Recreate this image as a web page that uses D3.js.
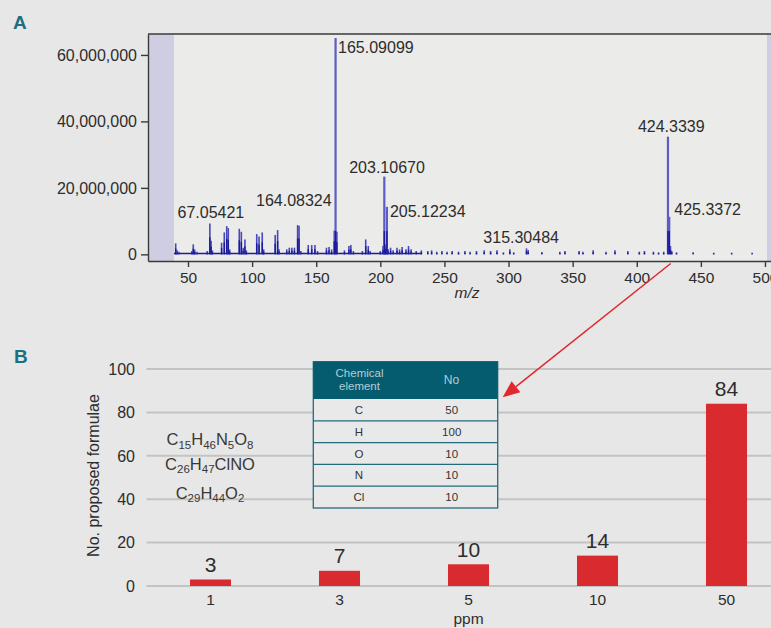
<!DOCTYPE html>
<html><head><meta charset="utf-8">
<script src="https://cdn.jsdelivr.net/npm/d3@7"></script>
<style>
html,body{margin:0;padding:0;background:#e7e7e7;}
svg{display:block;font-family:"Liberation Sans",Arial,Helvetica,sans-serif;}
</style></head>
<body>
<svg id="c" width="771" height="628"></svg>
<script>
// ---------- DATA: panel A (mass spectrum) ----------
const peakMz = [40.4,41.5,43,53,54.1,55.2,57,65,67.05,68,69,76.2,78.3,80.2,81.4,82.5,90,91.6,93,94.4,95.5,
  103.6,105.4,107.9,109,118,119.9,121,127,129,131,133,135.5,136.6,138,143.8,146.5,149,151,158,160,162,
  164.08,165.09,166.09,172,175.5,177,179,186,188.6,190.6,192,200,202.1,203.107,204.11,205.122,206.1,208,210,
  213,215,217,220,222,224,228,232,237,240,244,248,252,256,261,266,270,275,281,286,291,296,301,304,314,315.3,
  326,340,344,355,358,366,376,383,393,402,406,413,417,421,424.334,425.337,426.3,427.3,431,444,460,474,490];
const peakIntensity = [3.3,1.2,0.8,1.0,3.0,1.5,0.8,1.0,9.3,4.1,1.2,3.5,6.6,8.5,7.9,1.5,7.7,6.8,2.0,4.5,1.2,
  6.1,5.4,6.6,1.5,5.8,7.3,1.5,1.5,2.0,2.0,2.0,8.8,8.6,1.0,2.8,2.8,2.8,1.0,2.0,2.2,1.5,
  7.2,65.1,6.8,1.2,2.5,2.8,1.0,1.0,4.5,2.5,1.0,1.0,2.5,23.4,3.0,14.3,1.5,2.0,1.2,
  2.0,1.5,2.2,1.5,2.5,1.5,1.0,1.2,1.0,1.2,0.8,1.0,0.8,1.0,0.8,1.0,0.8,1.0,1.2,1.0,1.2,0.6,1.5,0.6,1.8,1.3,
  0.7,0.8,1.0,1.0,0.8,1.2,0.8,1.2,1.0,0.8,1.0,0.8,0.6,0.8,35.4,11.3,2.5,1.0,0.6,0.6,0.5,0.5,0.5].map(v=>v*1e6);
const labelMz   = [67.05,164.08,165.09,203.107,205.122,315.3,424.334,425.337];
const labelText = ["67.05421","164.08324","165.09099","203.10670","205.12234","315.30484","424.3339","425.3372"];
const mzTicks = [50,100,150,200,250,300,350,400,450,500];
const intensityTicks = [0,20e6,40e6,60e6];
const baselineSpan = [39,232];
const shadedSpans = [[18.8,39],[501.6,504.7]];

// ---------- DATA: panel B (bar chart) ----------
const ppm = ["1","3","5","10","50"];
const formulaeCount = [3,7,10,14,84];
const countTicks = [0,20,40,60,80,100];
const elements = ["C","H","O","N","Cl"];
const elementMax = [50,100,10,10,10];
const formulae = [
  [["C",""],["15","s"],["H",""],["46","s"],["N",""],["5","s"],["O",""],["8","s"]],
  [["C",""],["26","s"],["H",""],["47","s"],["ClNO",""]],
  [["C",""],["29","s"],["H",""],["44","s"],["O",""],["2","s"]]
];

// ---------- DRAW ----------
const svg = d3.select("#c");
const ink = "#2d2d2d", teal = "#1b6f80";

// Panel A
const xA = d3.scaleLinear().domain([18.8,504.7]).range([148,771]);
const yA = d3.scaleLinear().domain([-2.0e6,66.3e6]).range([261,34]);
svg.append("text").attr("x",13).attr("y",28.5).attr("fill",teal)
  .attr("font-size",19).attr("font-weight","bold").text("A");

svg.append("rect").attr("x",xA.range()[0]).attr("y",yA.range()[1])
  .attr("width",xA.range()[1]-xA.range()[0]).attr("height",yA.range()[0]-yA.range()[1]).attr("fill","#ebebe9");
svg.selectAll("rect.shade").data(shadedSpans).join("rect").attr("class","shade")
  .attr("x",d=>xA(d[0])).attr("width",d=>xA(d[1])-xA(d[0]))
  .attr("y",yA.range()[1]).attr("height",yA.range()[0]-yA.range()[1]).attr("fill","#cfcde2");

// baseline
svg.append("line").attr("x1",xA(baselineSpan[0])).attr("x2",xA(baselineSpan[1]))
  .attr("y1",yA(0.25e6)).attr("y2",yA(0.25e6)).attr("stroke","#1c1c9c").attr("stroke-width",1.6);

const peaks = peakMz.map((m,i)=>({m, v:peakIntensity[i]}));
svg.selectAll("line.pk").data(peaks).join("line").attr("class","pk")
  .attr("x1",d=>xA(d.m)).attr("x2",d=>xA(d.m))
  .attr("y1",yA(0)).attr("y2",d=>yA(d.v))
  .attr("stroke",d=>d.v>10e6?"#5c5cc4":"#4848bb").attr("stroke-width",d=>d.v>10e6?2.2:1.6);
svg.selectAll("line.pkd").data(peaks).join("line").attr("class","pkd")
  .attr("x1",d=>xA(d.m)).attr("x2",d=>xA(d.m))
  .attr("y1",yA(0)).attr("y2",d=>yA(Math.min(d.v, d.v>10e6?7e6:d.v*0.55)))
  .attr("stroke","#1a1a9a").attr("stroke-width",1.4);

// axes
const axL = svg.append("g").attr("transform",`translate(${xA.range()[0]},0)`)
  .call(d3.axisLeft(yA).tickValues(intensityTicks).tickFormat(d3.format(",")).tickSizeOuter(0).tickSizeInner(7).tickPadding(4));
const axB = svg.append("g").attr("transform",`translate(0,${yA.range()[0]})`)
  .call(d3.axisBottom(xA).tickValues(mzTicks).tickSizeOuter(0).tickSizeInner(6).tickPadding(5));
[axL,axB].forEach(g=>{
  g.selectAll("path,line").attr("stroke","#3a3a3a").attr("stroke-width",1.4);
  g.selectAll("text").attr("fill",ink).attr("font-size",16).attr("font-family",null);
});
axB.selectAll("text").attr("font-size",15.5);
svg.append("line").attr("x1",xA.range()[0]).attr("x2",xA.range()[1]).attr("y1",yA.range()[1]).attr("y2",yA.range()[1])
  .attr("stroke","#3a3a3a").attr("stroke-width",1.4);
svg.append("text").attr("x",467).attr("y",298).attr("text-anchor","middle").attr("font-style","italic")
  .attr("font-size",15.5).attr("fill",ink).text("m/z");

// peak labels (offsets relative to each labelled peak's top)
const labelLayout = {
  "67.05421":["middle",1,-5], "164.08324":["end",-2.6,-24], "165.09099":["start",2.5,15],
  "203.10670":["middle",2.7,-4], "205.12234":["start",3,10], "315.30484":["middle",-7,-6.7],
  "424.3339":["middle",3.3,-5], "425.3372":["start",5,-2]
};
const lab = labelMz.map((m,i)=>{
  const j = d3.minIndex(peakMz, p=>Math.abs(p-m));
  return {m, v:peakIntensity[j], t:labelText[i]};
});
svg.selectAll("text.pl").data(lab).join("text").attr("class","pl")
  .attr("x",d=>xA(d.m)+labelLayout[d.t][1]).attr("y",d=>yA(d.v)+labelLayout[d.t][2])
  .attr("text-anchor",d=>labelLayout[d.t][0]).attr("font-size",16).attr("fill",ink).text(d=>d.t);

// Panel B
svg.append("text").attr("x",14).attr("y",363).attr("fill",teal)
  .attr("font-size",19).attr("font-weight","bold").text("B");
const xB = d3.scaleBand().domain(ppm).range([146,791]).paddingInner(0.682).paddingOuter(0.341);
const yB = d3.scaleLinear().domain([0,100]).range([586,369]);

svg.selectAll("line.gr").data(countTicks).join("line").attr("class","gr")
  .attr("x1",146.5).attr("x2",771).attr("y1",d=>yB(d)).attr("y2",d=>yB(d))
  .attr("stroke","#c3c3c3").attr("stroke-width",2);
svg.selectAll("text.yt").data(countTicks).join("text").attr("class","yt")
  .attr("x",135).attr("y",d=>yB(d)).attr("dy","0.36em").attr("text-anchor","end")
  .attr("font-size",16).attr("fill",ink).text(d=>d);
svg.append("text").attr("transform","translate(98.5,475.5) rotate(-90)").attr("text-anchor","middle")
  .attr("font-size",16).attr("fill",ink).text("No. proposed formulae");

svg.selectAll("rect.bar").data(ppm).join("rect").attr("class","bar")
  .attr("x",d=>xB(d)).attr("width",xB.bandwidth())
  .attr("y",(d,i)=>yB(formulaeCount[i])).attr("height",(d,i)=>yB(0)-yB(formulaeCount[i]))
  .attr("fill","#d92a30");
svg.selectAll("text.bv").data(ppm).join("text").attr("class","bv")
  .attr("x",d=>xB(d)+xB.bandwidth()/2).attr("y",(d,i)=>yB(formulaeCount[i])-7.5)
  .attr("text-anchor","middle").attr("font-size",21).attr("fill",ink).text((d,i)=>formulaeCount[i]);
svg.selectAll("text.xt").data(ppm).join("text").attr("class","xt")
  .attr("x",d=>xB(d)+xB.bandwidth()/2).attr("y",604.5)
  .attr("text-anchor","middle").attr("font-size",15.5).attr("fill",ink).text(d=>d);
svg.append("text").attr("x",(xB.range()[0]+xB.range()[1])/2).attr("y",624)
  .attr("text-anchor","middle").attr("font-size",15.5).attr("fill",ink).text("ppm");

// formulae (subscripts shifted down, next normal run shifted back up)
const fy = [445,469.5,498.5];
formulae.forEach((f,i)=>{
  const t = svg.append("text").attr("x",210).attr("y",fy[i]).attr("text-anchor","middle")
    .attr("font-size",16.5).attr("fill","#383838");
  let shifted = false;
  f.forEach(([s,k])=>{
    let dy = 0;
    if(k && !shifted){dy = 3.5; shifted = true;}
    else if(!k && shifted){dy = -3.5; shifted = false;}
    t.append("tspan").attr("font-size",k?11.5:16.5).attr("dy",dy).text(s);
  });
});

// table
const tx0=313.3, tx1=497.7, ty0=361.7, hh=37.3, rh=21.8;
const tab = svg.append("g");
tab.append("rect").attr("x",tx0).attr("y",ty0).attr("width",tx1-tx0).attr("height",hh+rh*elements.length)
  .attr("fill","#e9e9e9").attr("stroke","#236b7c").attr("stroke-width",1.3);
tab.append("rect").attr("x",tx0).attr("y",ty0).attr("width",tx1-tx0).attr("height",hh).attr("fill","#065c6f");
tab.append("text").attr("x",359.5).attr("y",376.5).attr("text-anchor","middle").attr("font-size",11.5)
  .attr("fill","#b3cdd4").text("Chemical");
tab.append("text").attr("x",359.5).attr("y",390).attr("text-anchor","middle").attr("font-size",11.5)
  .attr("fill","#b3cdd4").text("element");
tab.append("text").attr("x",451.5).attr("y",384).attr("text-anchor","middle").attr("font-size",12)
  .attr("fill","#b3cdd4").text("No");
tab.selectAll("line.rl").data(elements.slice(1)).join("line").attr("class","rl")
  .attr("x1",tx0).attr("x2",tx1).attr("y1",(d,i)=>ty0+hh+rh*(i+1)).attr("y2",(d,i)=>ty0+hh+rh*(i+1))
  .attr("stroke","#236b7c").attr("stroke-width",1.3);
tab.selectAll("text.el").data(elements).join("text").attr("class","el")
  .attr("x",359).attr("y",(d,i)=>ty0+hh+rh*i+rh/2).attr("dy","0.36em").attr("text-anchor","middle")
  .attr("font-size",11.5).attr("fill","#333").text(d=>d);
tab.selectAll("text.en").data(elementMax).join("text").attr("class","en")
  .attr("x",451.7).attr("y",(d,i)=>ty0+hh+rh*i+rh/2).attr("dy","0.36em").attr("text-anchor","middle")
  .attr("font-size",11.5).attr("fill","#333").text(d=>d);

// arrow from 424/425 peak to table
const ax0 = xA(425.3)+1.5, ay0 = yA.range()[0]+2.5;
const ax1 = tx1+5, ay1 = 397.3;
const ux = ax1-ax0, uy = ay1-ay0, L = Math.hypot(ux,uy), nx=ux/L, ny=uy/L;
const hl=17, hw=7;
const bx = ax1-nx*hl, by = ay1-ny*hl;
svg.append("line").attr("x1",ax0).attr("y1",ay0).attr("x2",bx).attr("y2",by)
  .attr("stroke","#e0282e").attr("stroke-width",1.5);
svg.append("polygon").attr("points",[[ax1,ay1],[bx-ny*hw,by+nx*hw],[bx+ny*hw,by-nx*hw]].map(p=>p.join(",")).join(" "))
  .attr("fill","#e0282e");
</script>
</body></html>
